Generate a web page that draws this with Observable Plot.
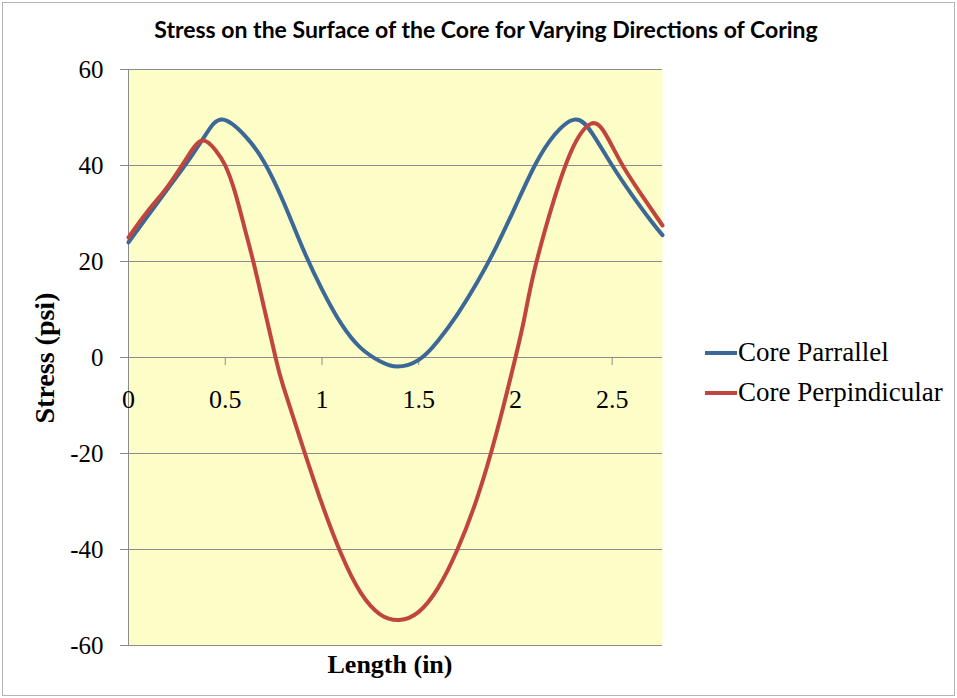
<!DOCTYPE html>
<html>
<head>
<meta charset="utf-8">
<script src="https://cdn.jsdelivr.net/npm/d3@7"></script>
<script src="https://cdn.jsdelivr.net/npm/@observablehq/plot@0.6"></script>
<style>
  html, body { margin: 0; padding: 0; background: #fff; }
  #wrap { position: relative; width: 957px; height: 698px; overflow: hidden; background: #fff; }
  #border { position: absolute; left: 2px; top: 2px; width: 951px; height: 692px; border: 1px solid #b4b4b4; pointer-events: none; }
  #title { position: absolute; left: 0; top: 15px; width: 972px; text-align: center; font-family: Lato, "Open Sans", sans-serif; font-weight: bold; font-size: 23px; color: #000; }
  #chart { position: absolute; left: 0; top: 0; }
  .axlabel { position: absolute; font-family: "Liberation Serif", "Times New Roman", serif; font-weight: bold; color: #000; white-space: nowrap; }
  #xlabel { left: 0; width: 780px; top: 650px; text-align: center; font-size: 26px; }
  #ylabel { left: 45px; top: 358px; font-size: 28px; transform: translate(-50%, -50%) rotate(-90deg); }
  .leg { position: absolute; left: 705px; font-family: "Liberation Serif", "Times New Roman", serif; font-size: 27px; color: #000; display: flex; align-items: center; white-space: nowrap; }
  .leg .sw { width: 32px; height: 4px; margin-right: 1px; }
</style>
</head>
<body>
<div id="wrap">
  <div id="chart"></div>
  <div id="title">Stress on the Surface of the Core for Varying Directions of Coring</div>
  <div class="axlabel" id="xlabel">Length (in)</div>
  <div class="axlabel" id="ylabel">Stress (psi)</div>
  <div id="legend"></div>
  <div id="border"></div>
</div>
<script>
// ---- data ----
const seriesNames = ["Core Parrallel", "Core Perpindicular"];
const seriesColors = ["#3c6897", "#c0453e"];

const parallelX = [0, 0.1, 0.2, 0.3, 0.4, 0.485, 0.6, 0.7, 0.8, 0.9, 1.0, 1.1, 1.2, 1.3, 1.39, 1.5, 1.6, 1.7, 1.8, 1.9, 2.0, 2.1, 2.2, 2.31, 2.4, 2.5, 2.6, 2.7, 2.76];
const parallelY = [24, 29.5, 35, 40.5, 46.5, 49.6, 46.3, 40.8, 32.5, 22.8, 14.2, 7, 2, -0.8, -1.9, -0.5, 3.5, 9, 15.5, 23, 31.5, 40, 46.3, 49.6, 46.5, 40, 34, 28.5, 25.5];

const perpX = [0, 0.1, 0.2, 0.3, 0.38, 0.45, 0.5, 0.55, 0.6, 0.645, 0.7, 0.76, 0.8, 0.9, 1.0, 1.1, 1.2, 1.3, 1.4, 1.5, 1.6, 1.7, 1.8, 1.9, 2.0, 2.05, 2.1, 2.2, 2.3, 2.39, 2.45, 2.5, 2.56, 2.65, 2.76];
const perpY = [25, 30.5, 35.5, 41.5, 45.2, 43.2, 40, 34.5, 27, 20, 10.5, 0, -6, -18.5, -30.5, -41, -49, -53.5, -54.7, -53, -48, -40, -29.5, -16, 0, 9, 18.5, 33, 44, 48.7, 47.5, 44, 39.6, 34, 27.5];

const xTicks = [0, 0.5, 1, 1.5, 2, 2.5];
const xTickLabels = ["0", "0.5", "1", "1.5", "2", "2.5"];
const yTicks = [-60, -40, -20, 0, 20, 40, 60];

// ---- build tables ----
const parallel = parallelX.map((x, i) => ({x, y: parallelY[i], s: seriesNames[0]}));
const perp = perpX.map((x, i) => ({x, y: perpY[i], s: seriesNames[1]}));

const serif = "Liberation Serif, Times New Roman, serif";
const gridColor = "#8c8c8c";

const chart = Plot.plot({
  width: 957,
  height: 698,
  marginTop: 69,
  marginBottom: 53,
  marginLeft: 128,
  marginRight: 295,
  style: {background: "transparent", overflow: "visible"},
  x: {domain: [0, 2.76], axis: null},
  y: {domain: [-60, 60], axis: null},
  marks: [
    Plot.frame({fill: "#fdfdc8", stroke: null}),
    Plot.gridY(yTicks, {stroke: gridColor, strokeOpacity: 1, strokeWidth: 1}),
    Plot.ruleX([0], {stroke: gridColor, strokeWidth: 1}),
    Plot.axisY(yTicks, {
      tickSize: 8, tickPadding: 17, stroke: gridColor, fill: "#000",
      fontSize: 25, fontFamily: serif, label: null, tickFormat: d => String(d)
    }),
    Plot.ruleX(xTicks, {x: d => d, y1: 0, y2: 0, insetBottom: -8, stroke: gridColor}),
    Plot.text(xTicks, {
      x: d => d, y: 0, text: (d, i) => xTickLabels[i], dy: 42,
      fontSize: 26, fontFamily: serif, fill: "#000"
    }),
    Plot.line(parallel, {x: "x", y: "y", stroke: seriesColors[0], strokeWidth: 4, curve: "natural"}),
    Plot.line(perp, {x: "x", y: "y", stroke: seriesColors[1], strokeWidth: 4, curve: "natural"})
  ]
});
document.getElementById("chart").appendChild(chart);

// legend
const legend = document.getElementById("legend");
const legTops = [337, 377];
seriesNames.forEach((name, i) => {
  const item = document.createElement("div");
  item.className = "leg";
  item.style.top = legTops[i] + "px";
  const sw = document.createElement("div");
  sw.className = "sw";
  sw.style.background = seriesColors[i];
  const t = document.createElement("span");
  t.textContent = name;
  item.appendChild(sw);
  item.appendChild(t);
  legend.appendChild(item);
});
</script>
</body>
</html>
